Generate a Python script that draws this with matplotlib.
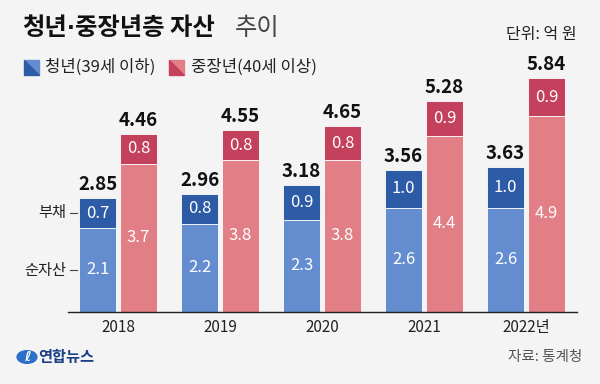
import matplotlib
matplotlib.use("Agg")
import matplotlib.pyplot as plt
from matplotlib.patches import Polygon, Circle
import numpy as np

plt.rcParams['font.family'] = ['Noto Sans CJK KR', 'DejaVu Sans']

years = ['2018', '2019', '2020', '2021', '2022년']
youth_net = [2.1, 2.2, 2.3, 2.6, 2.6]
youth_debt = [0.7, 0.8, 0.9, 1.0, 1.0]
youth_total = [2.85, 2.96, 3.18, 3.56, 3.63]
mid_net = [3.7, 3.8, 3.8, 4.4, 4.9]
mid_debt = [0.8, 0.8, 0.8, 0.9, 0.9]
mid_total = [4.46, 4.55, 4.65, 5.28, 5.84]

BG = '#f4f4f4'
C_YN = '#648dd0'
C_YD = '#2e5ba5'
C_MN = '#e27f86'
C_MD = '#c4415e'

W, H = 600, 384
fig = plt.figure(figsize=(6, 3.84), dpi=100, facecolor=BG)

def fx(px):
    return px / W

def fy(py):
    return 1 - py / H

ax_left, ax_right, ax_top, ax_bot = 68, 577, 72, 312
ax = fig.add_axes([fx(ax_left), fy(ax_bot), (ax_right - ax_left) / W, (ax_bot - ax_top) / H])
ax.set_facecolor(BG)
ppu = 40.0
ax.set_ylim(0, (ax_bot - ax_top) / ppu)
ax.set_xlim(-0.49, 4.5)

x = np.arange(len(years))
bw = 0.36
off = 0.2
yn = np.array(youth_net); yt = np.array(youth_total)
mn = np.array(mid_net); mt = np.array(mid_total)

ax.bar(x - off, yn, bw, color=C_YN, edgecolor='white', linewidth=0.6)
ax.bar(x - off, yt - yn, bw, bottom=yn, color=C_YD, edgecolor='white', linewidth=0.6)
ax.bar(x + off, mn, bw, color=C_MN, edgecolor='white', linewidth=0.6)
ax.bar(x + off, mt - mn, bw, bottom=mn, color=C_MD, edgecolor='white', linewidth=0.6)

for i in range(len(years)):
    ax.text(x[i] - off, yn[i] / 2, f'{youth_net[i]:.1f}', ha='center', va='center',
            color='white', fontsize=12, fontweight='light')
    ax.text(x[i] - off, (yn[i] + yt[i]) / 2, f'{youth_debt[i]:.1f}', ha='center', va='center',
            color='white', fontsize=12, fontweight='light')
    ax.text(x[i] + off, mn[i] / 2, f'{mid_net[i]:.1f}', ha='center', va='center',
            color='white', fontsize=12, fontweight='light')
    ax.text(x[i] + off, (mn[i] + mt[i]) / 2, f'{mid_debt[i]:.1f}', ha='center', va='center',
            color='white', fontsize=12, fontweight='light')
    ax.text(x[i] - off, yt[i] + 0.1, f'{youth_total[i]:.2f}', ha='center', va='bottom',
            color='#111111', fontsize=13.5, fontweight='bold')
    ax.text(x[i] + off, mt[i] + 0.1, f'{mid_total[i]:.2f}', ha='center', va='bottom',
            color='#111111', fontsize=13.5, fontweight='bold')

for s in ['top', 'right', 'left']:
    ax.spines[s].set_visible(False)
ax.spines['bottom'].set_color('#222222')
ax.spines['bottom'].set_linewidth(1.0)
ax.set_xticks(x)
ax.set_xticklabels(years, fontsize=11, color='#222222')
ax.tick_params(axis='x', length=0, pad=5)
ax.set_yticks([])

# side labels
ypos_debt = (yn[0] + yt[0]) / 2
ypos_net = yn[0] / 2
def px2x(px):
    return (px - ax_left) / 102.0 - 0.49
for yy, lab in [(ypos_debt, '부채'), (ypos_net, '순자산')]:
    ax.text(px2x(66), yy, lab, ha='right', va='center', fontsize=11, color='#222222', clip_on=False)
    ax.plot([px2x(70), px2x(77)], [yy, yy], color='#444444', lw=0.8, clip_on=False)

# title
fig.text(fx(22), fy(28), '청년', fontsize=17.5, fontweight='bold', color='#111111',
         ha='left', va='center')
fig.text(fx(71), fy(28), '·', fontsize=15, fontweight='bold', color='#111111',
         ha='center', va='center', family=['DejaVu Sans'])
fig.text(fx(75), fy(28), '중장년층 자산', fontsize=17.5, fontweight='bold', color='#111111',
         ha='left', va='center')
fig.text(fx(235), fy(28), '추이', fontsize=17.5, fontweight='light', color='#444444',
         ha='left', va='center')
fig.text(fx(577), fy(35), '단위: 억 원', fontsize=11.5, color='#222222', ha='right', va='center')

# legend
def legend_square(x0, y0, s, light, dark):
    pts_dark = [(fx(x0), fy(y0)), (fx(x0), fy(y0 + s)), (fx(x0 + s), fy(y0 + s))]
    pts_light = [(fx(x0), fy(y0)), (fx(x0 + s), fy(y0)), (fx(x0 + s), fy(y0 + s))]
    fig.patches.append(Polygon(pts_light, closed=True, transform=fig.transFigure, color=light))
    fig.patches.append(Polygon(pts_dark, closed=True, transform=fig.transFigure, color=dark))

legend_square(24, 60, 15, C_YN, C_YD)
fig.text(fx(45), fy(67.5), '청년(39세 이하)', fontsize=12, color='#222222', ha='left', va='center')
legend_square(169, 60, 15, C_MN, C_MD)
fig.text(fx(191), fy(67.5), '중장년(40세 이상)', fontsize=12, color='#222222', ha='left', va='center')

# footer
fig.text(fx(582), fy(357), '자료: 통계청', fontsize=10.5, color='#555555', ha='right', va='center')
circ = Circle((fx(27), fy(357)), 0.0165, transform=fig.transFigure, color='#2a6fc9')
fig.patches.append(circ)
fig.text(fx(27), fy(357), 'ℓ', fontsize=10, color='white', ha='center', va='center',
         fontweight='bold', style='italic', family=['DejaVu Sans'])
fig.text(fx(38), fy(357), '연합뉴스', fontsize=11, fontweight='bold', color='#1c3f86',
         ha='left', va='center')

fig.savefig('out.png', dpi=100, facecolor=BG)
